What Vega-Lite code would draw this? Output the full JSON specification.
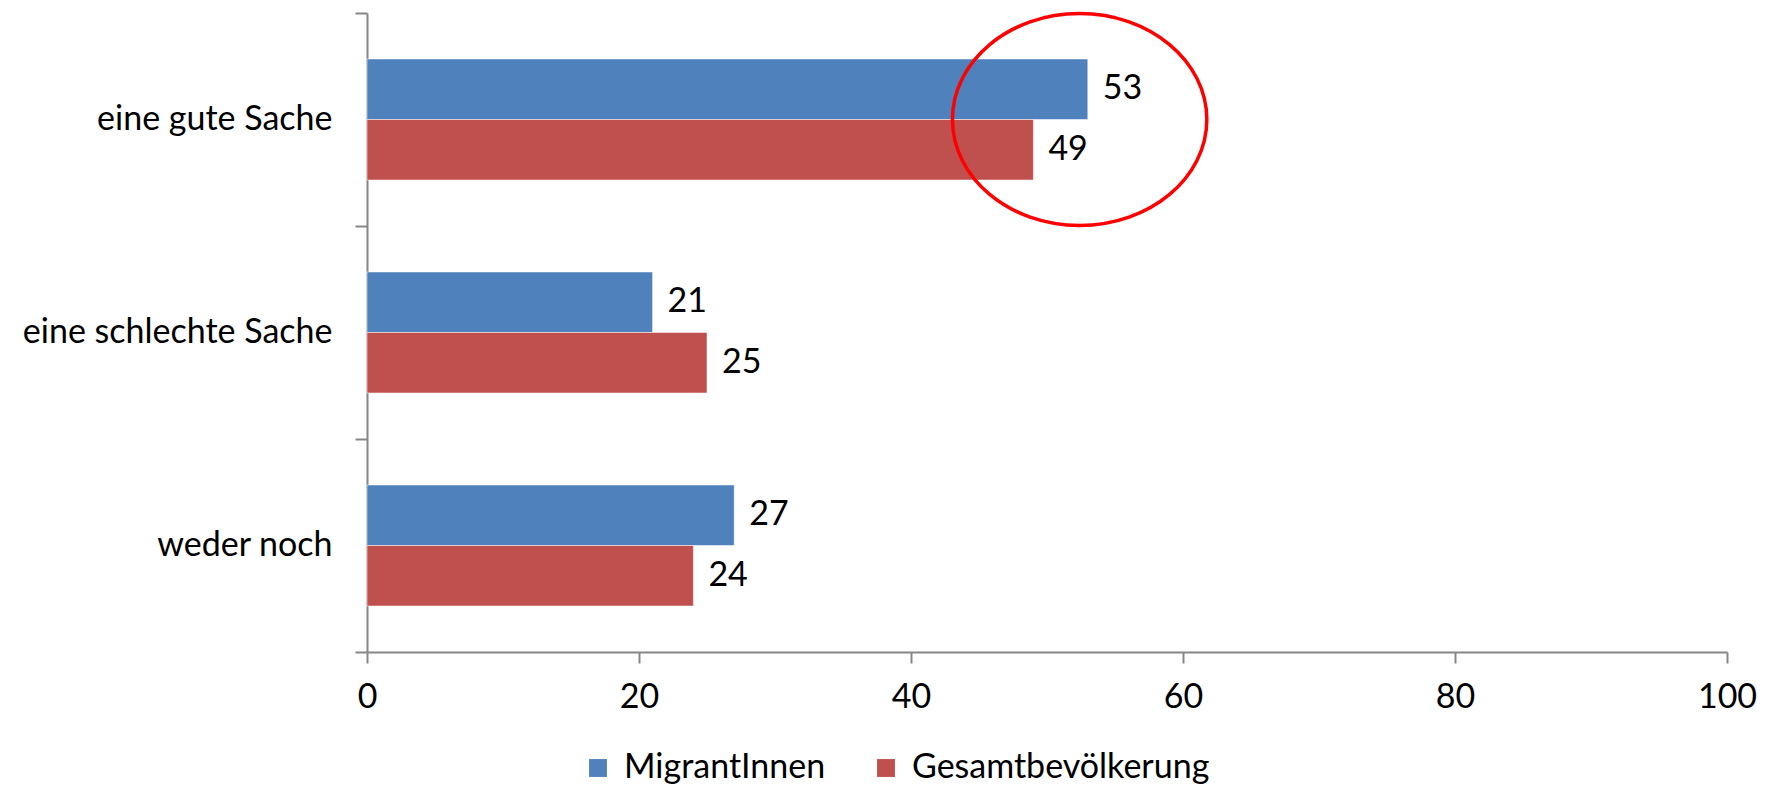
{
  "$schema": "https://vega.github.io/schema/vega-lite/v6.json",
  "width": 1360,
  "height": 639,
  "autosize": {"type": "none"},
  "padding": {"left": 367, "top": 13, "right": 40, "bottom": 135},
  "background": "white",
  "config": {
    "view": {"stroke": null},
    "font": "Lato",
    "axis": {"labelFont": "Lato", "labelFontSize": 34, "labelColor": "black", "labelLimit": 0, "domainColor": "#868686", "tickColor": "#868686", "domainWidth": 2, "tickWidth": 2, "grid": false, "title": null},
    "legend": {"labelFont": "Lato", "labelFontSize": 34, "labelColor": "black", "labelLimit": 0}
  },
  "datasets": {
    "main": [
      {"Antwort": "eine gute Sache", "Gruppe": "MigrantInnen", "Wert": 53},
      {"Antwort": "eine gute Sache", "Gruppe": "Gesamtbevölkerung", "Wert": 49},
      {"Antwort": "eine schlechte Sache", "Gruppe": "MigrantInnen", "Wert": 21},
      {"Antwort": "eine schlechte Sache", "Gruppe": "Gesamtbevölkerung", "Wert": 25},
      {"Antwort": "weder noch", "Gruppe": "MigrantInnen", "Wert": 27},
      {"Antwort": "weder noch", "Gruppe": "Gesamtbevölkerung", "Wert": 24}
    ],
    "highlight": [
      {"Antwort": "eine gute Sache", "Wert": 52.4}
    ]
  },
  "layer": [
    {
      "data": {"name": "main"},
      "encoding": {
        "y": {
          "field": "Antwort", "type": "nominal",
          "sort": ["eine gute Sache", "eine schlechte Sache", "weder noch"],
          "scale": {"paddingInner": 0, "paddingOuter": 0},
          "axis": {"tickBand": "extent", "tickSize": 12, "labelPadding": 23}
        },
        "yOffset": {
          "field": "Gruppe", "type": "nominal",
          "sort": ["MigrantInnen", "Gesamtbevölkerung"],
          "scale": {"paddingInner": 0, "paddingOuter": 0.76}
        },
        "x": {
          "field": "Wert", "type": "quantitative",
          "scale": {"domain": [0, 100], "nice": false},
          "axis": {"values": [0, 20, 40, 60, 80, 100], "tickSize": 11, "labelPadding": 17, "labelFlush": false}
        }
      },
      "layer": [
        {
          "mark": {"type": "bar", "stroke": "white", "strokeWidth": 1, "strokeOpacity": 0.5},
          "encoding": {
            "color": {
              "field": "Gruppe", "type": "nominal",
              "scale": {"domain": ["MigrantInnen", "Gesamtbevölkerung"], "range": ["#4F81BD", "#C0504D"]},
              "legend": {
                "title": null, "orient": "none", "direction": "horizontal",
                "legendX": 214, "legendY": 738,
                "symbolType": "square", "symbolSize": 320, "symbolStrokeWidth": 0,
                "labelOffset": 9, "columnPadding": 43
              }
            }
          }
        },
        {
          "mark": {"type": "text", "align": "left", "baseline": "middle", "dx": 15, "fontSize": 34, "color": "black"},
          "encoding": {"text": {"field": "Wert", "type": "quantitative"}}
        }
      ]
    },
    {
      "data": {"name": "highlight"},
      "mark": {
        "type": "point",
        "shape": "M -1.2,0 A 1.2,1 0 1,0 1.2,0 A 1.2,1 0 1,0 -1.2,0 Z",
        "size": 44944, "filled": false, "stroke": "#FF0000", "strokeWidth": 3.5, "opacity": 1
      },
      "encoding": {
        "x": {"field": "Wert", "type": "quantitative"},
        "y": {"field": "Antwort", "type": "nominal", "sort": ["eine gute Sache", "eine schlechte Sache", "weder noch"]}
      }
    }
  ]
}
